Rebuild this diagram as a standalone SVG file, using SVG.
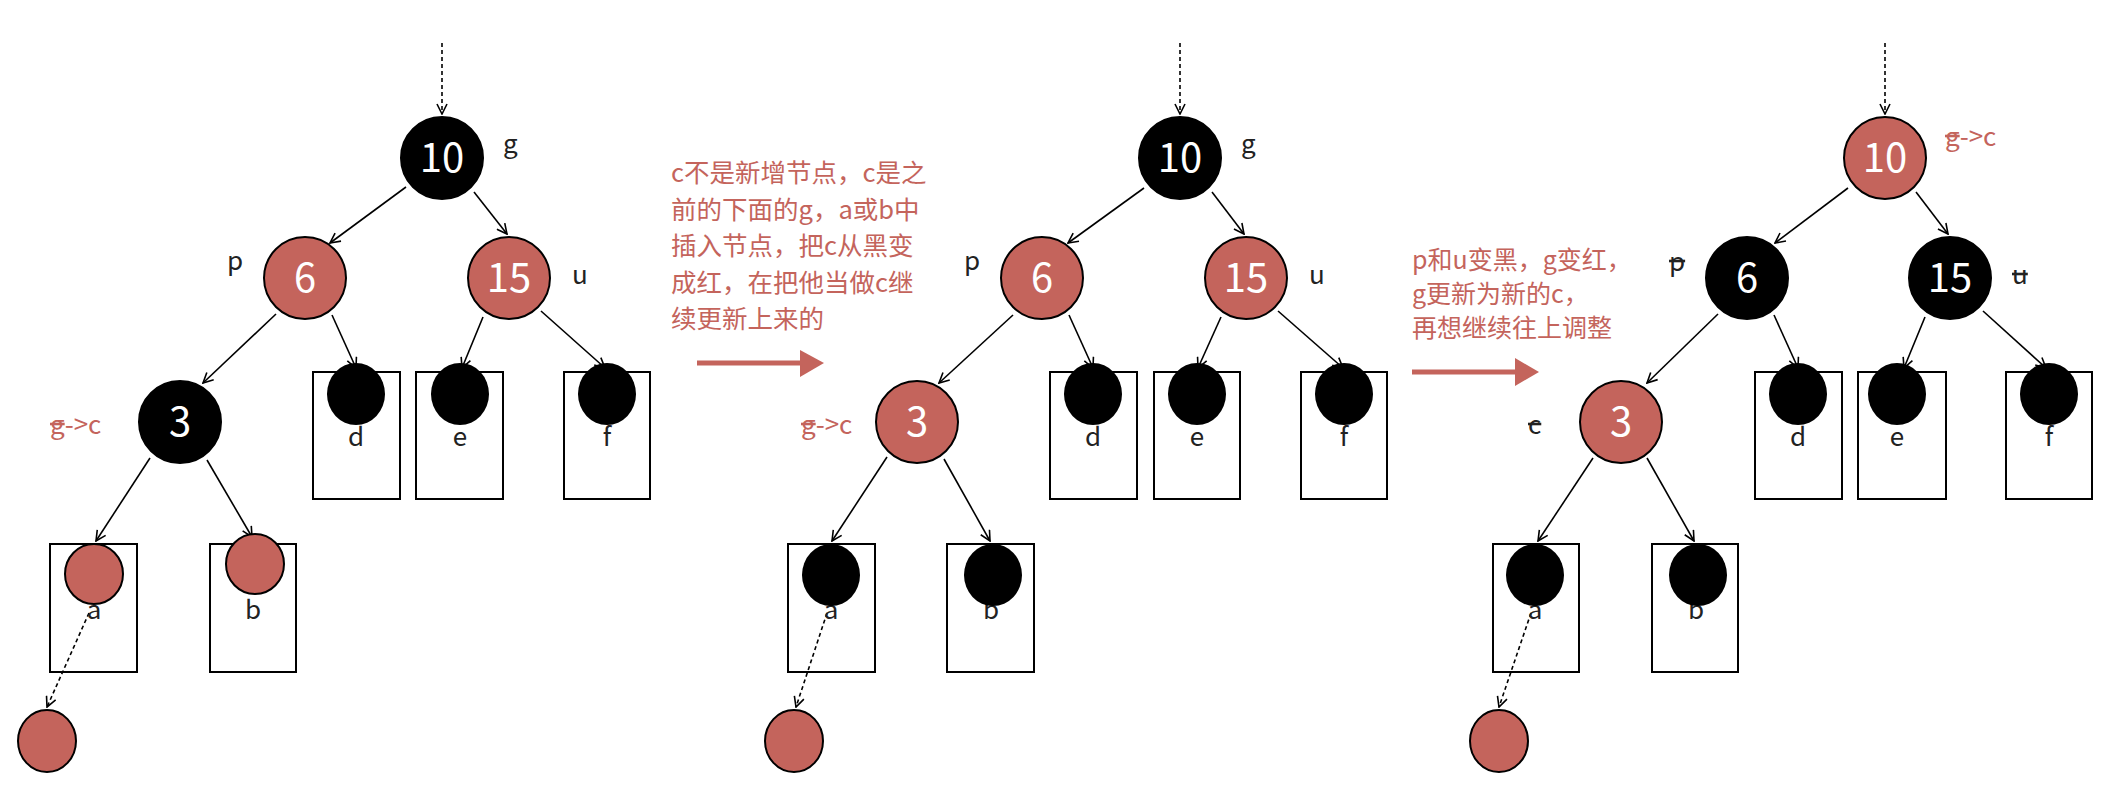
<svg xmlns="http://www.w3.org/2000/svg" width="2120" height="786" viewBox="0 0 2120 786">
<style>
.bk{fill:#000;stroke:#000;stroke-width:2}
.rd{fill:#C4645C;stroke:#000;stroke-width:2}
.lf{fill:#000}
.box{fill:none;stroke:#000;stroke-width:2}
.num{font-family:"Noto Sans CJK SC","Liberation Sans",sans-serif;font-size:40px;fill:#fff;text-anchor:middle}
.lbl{font-family:"Noto Sans CJK SC","Liberation Sans",sans-serif;font-size:26px;fill:#222}
.lc{text-anchor:middle}
.rt{font-family:"Noto Sans CJK SC","Liberation Sans",sans-serif;font-size:25.5px;fill:#C4645C}
.rs{font-family:"Noto Sans CJK SC","Liberation Sans",sans-serif;font-size:26px;fill:#C4645C}
.st{text-decoration:line-through}
.e{fill:none;stroke:#000;stroke-width:1.6;marker-end:url(#ah)}
.d{fill:none;stroke:#000;stroke-width:1.6;stroke-dasharray:4 3;marker-end:url(#ah)}
.ra{stroke:#C4645C;stroke-width:5;fill:none}
</style>
<defs>
<marker id="ah" viewBox="0 0 12 12" refX="11" refY="6" markerWidth="12" markerHeight="12" markerUnits="userSpaceOnUse" orient="auto">
<path d="M1,1 L11,6 L1,11" fill="none" stroke="#000" stroke-width="1.6"/>
</marker>
</defs>
<rect width="2120" height="786" fill="#fff"/>

<g id="connectors">
<!-- panel 1 -->
<line class="d" x1="442" y1="43" x2="442" y2="114"/>
<line class="e" x1="406" y1="187" x2="330" y2="243"/>
<line class="e" x1="474" y1="192" x2="507" y2="234"/>
<line class="e" x1="276" y1="314" x2="203" y2="383"/>
<line class="e" x1="332" y1="315" x2="356" y2="368"/>
<line class="e" x1="483" y1="317" x2="462" y2="368"/>
<line class="e" x1="541" y1="311" x2="605" y2="368"/>
<line class="e" x1="150" y1="458" x2="96" y2="541"/>
<line class="e" x1="207" y1="460" x2="252" y2="537"/>
<line class="d" x1="89" y1="613" x2="47" y2="707"/>
<!-- panel 2 -->
<line class="d" x1="1180" y1="43" x2="1180" y2="114"/>
<line class="e" x1="1144" y1="188" x2="1068" y2="243"/>
<line class="e" x1="1212" y1="192" x2="1244" y2="234"/>
<line class="e" x1="1013" y1="315" x2="939" y2="383"/>
<line class="e" x1="1069" y1="315" x2="1093" y2="368"/>
<line class="e" x1="1221" y1="317" x2="1198" y2="368"/>
<line class="e" x1="1278" y1="311" x2="1343" y2="368"/>
<line class="e" x1="887" y1="457" x2="832" y2="541"/>
<line class="e" x1="944" y1="459" x2="990" y2="541"/>
<line class="d" x1="827" y1="613" x2="796" y2="707"/>
<!-- panel 3 -->
<line class="d" x1="1885" y1="43" x2="1885" y2="114"/>
<line class="e" x1="1848" y1="188" x2="1775" y2="243"/>
<line class="e" x1="1916" y1="192" x2="1948" y2="234"/>
<line class="e" x1="1718" y1="314" x2="1647" y2="383"/>
<line class="e" x1="1774" y1="315" x2="1798" y2="368"/>
<line class="e" x1="1925" y1="317" x2="1904" y2="368"/>
<line class="e" x1="1983" y1="311" x2="2046" y2="368"/>
<line class="e" x1="1593" y1="458" x2="1538" y2="541"/>
<line class="e" x1="1647" y1="458" x2="1694" y2="541"/>
<line class="d" x1="1531" y1="613" x2="1499" y2="707"/>
</g>

<!-- ===== Panel 1 ===== -->
<g id="p1-n10"><circle class="bk" cx="442" cy="158" r="41"/><text class="num" x="442" y="172">10</text></g>
<g id="p1-g"><text class="lbl" x="503" y="153">g</text></g>
<g id="p1-n6"><circle class="rd" cx="305" cy="278" r="41"/><text class="num" x="305" y="292">6</text></g>
<g id="p1-p"><text class="lbl" x="227" y="270">p</text></g>
<g id="p1-n15"><circle class="rd" cx="509" cy="278" r="41"/><text class="num" x="509" y="292">15</text></g>
<g id="p1-u"><text class="lbl" x="572" y="284">u</text></g>
<g id="p1-n3"><circle class="bk" cx="180" cy="422" r="41"/><text class="num" x="180" y="436">3</text></g>
<g id="p1-gc"><text class="rs" x="50" y="434"><tspan class="st">g</tspan>-&gt;c</text></g>
<g id="p1-d"><rect class="box" x="313" y="372" width="87" height="127"/><text class="lbl lc" x="356" y="446">d</text><ellipse class="lf" cx="356" cy="394" rx="29" ry="31"/></g>
<g id="p1-e"><rect class="box" x="416" y="372" width="87" height="127"/><text class="lbl lc" x="460" y="446">e</text><ellipse class="lf" cx="460" cy="394" rx="29" ry="31"/></g>
<g id="p1-f"><rect class="box" x="564" y="372" width="86" height="127"/><text class="lbl lc" x="607" y="446">f</text><ellipse class="lf" cx="607" cy="394" rx="29" ry="31"/></g>
<g id="p1-a"><rect class="box" x="50" y="544" width="87" height="128"/><text class="lbl lc" x="94" y="619">a</text><ellipse class="rd" cx="94" cy="574" rx="29" ry="30"/></g>
<g id="p1-b"><rect class="box" x="210" y="544" width="86" height="128"/><text class="lbl lc" x="253" y="619">b</text><ellipse class="rd" cx="255" cy="564" rx="29" ry="30"/></g>
<g id="p1-new"><ellipse class="rd" cx="47" cy="741" rx="29" ry="31"/></g>

<g id="note1">
<text class="rt" x="671" y="182">c不是新增节点，c是之</text>
<text class="rt" x="671" y="219">前的下面的g，a或b中</text>
<text class="rt" x="671" y="255">插入节点，把c从黑变</text>
<text class="rt" x="671" y="292">成红，在把他当做c继</text>
<text class="rt" x="671" y="328">续更新上来的</text>
<line class="ra" x1="697" y1="363" x2="803" y2="363"/>
<polygon points="800,350 824,363 800,377" fill="#C4645C"/>
</g>

<!-- ===== Panel 2 ===== -->
<g id="p2-n10"><circle class="bk" cx="1180" cy="158" r="41"/><text class="num" x="1180" y="172">10</text></g>
<g id="p2-g"><text class="lbl" x="1241" y="153">g</text></g>
<g id="p2-n6"><circle class="rd" cx="1042" cy="278" r="41"/><text class="num" x="1042" y="292">6</text></g>
<g id="p2-p"><text class="lbl" x="964" y="270">p</text></g>
<g id="p2-n15"><circle class="rd" cx="1246" cy="278" r="41"/><text class="num" x="1246" y="292">15</text></g>
<g id="p2-u"><text class="lbl" x="1309" y="284">u</text></g>
<g id="p2-n3"><circle class="rd" cx="917" cy="422" r="41"/><text class="num" x="917" y="436">3</text></g>
<g id="p2-gc"><text class="rs" x="801" y="434"><tspan class="st">g</tspan>-&gt;c</text></g>
<g id="p2-d"><rect class="box" x="1050" y="372" width="87" height="127"/><text class="lbl lc" x="1093" y="446">d</text><ellipse class="lf" cx="1093" cy="394" rx="29" ry="31"/></g>
<g id="p2-e"><rect class="box" x="1154" y="372" width="86" height="127"/><text class="lbl lc" x="1197" y="446">e</text><ellipse class="lf" cx="1197" cy="394" rx="29" ry="31"/></g>
<g id="p2-f"><rect class="box" x="1301" y="372" width="86" height="127"/><text class="lbl lc" x="1344" y="446">f</text><ellipse class="lf" cx="1344" cy="394" rx="29" ry="31"/></g>
<g id="p2-a"><rect class="box" x="788" y="544" width="87" height="128"/><text class="lbl lc" x="831" y="619">a</text><ellipse class="lf" cx="831" cy="575" rx="29" ry="31"/></g>
<g id="p2-b"><rect class="box" x="947" y="544" width="87" height="128"/><text class="lbl lc" x="991" y="619">b</text><ellipse class="lf" cx="993" cy="575" rx="29" ry="31"/></g>
<g id="p2-new"><ellipse class="rd" cx="794" cy="741" rx="29" ry="31"/></g>

<g id="note2">
<text class="rt" x="1412" y="269" style="font-size:25px">p和u变黑，g变红，</text>
<text class="rt" x="1412" y="303" style="font-size:25px">g更新为新的c，</text>
<text class="rt" x="1412" y="337" style="font-size:25px">再想继续往上调整</text>
<line class="ra" x1="1412" y1="372" x2="1518" y2="372"/>
<polygon points="1515,358 1539,372 1515,386" fill="#C4645C"/>
</g>

<!-- ===== Panel 3 ===== -->
<g id="p3-n10"><circle class="rd" cx="1885" cy="158" r="41"/><text class="num" x="1885" y="172">10</text></g>
<g id="p3-gc"><text class="rs" x="1945" y="146"><tspan class="st">g</tspan>-&gt;c</text></g>
<g id="p3-n6"><circle class="bk" cx="1747" cy="278" r="41"/><text class="num" x="1747" y="292">6</text></g>
<g id="p3-p"><text class="lbl st" x="1669" y="271">p</text></g>
<g id="p3-n15"><circle class="bk" cx="1950" cy="278" r="41"/><text class="num" x="1950" y="292">15</text></g>
<g id="p3-u"><text class="lbl st" x="2012" y="284">u</text></g>
<g id="p3-n3"><circle class="rd" cx="1621" cy="422" r="41"/><text class="num" x="1621" y="436">3</text></g>
<g id="p3-c"><text class="lbl st" x="1528" y="434">c</text></g>
<g id="p3-d"><rect class="box" x="1755" y="372" width="87" height="127"/><text class="lbl lc" x="1798" y="446">d</text><ellipse class="lf" cx="1798" cy="394" rx="29" ry="31"/></g>
<g id="p3-e"><rect class="box" x="1858" y="372" width="88" height="127"/><text class="lbl lc" x="1897" y="446">e</text><ellipse class="lf" cx="1897" cy="394" rx="29" ry="31"/></g>
<g id="p3-f"><rect class="box" x="2006" y="372" width="86" height="127"/><text class="lbl lc" x="2049" y="446">f</text><ellipse class="lf" cx="2049" cy="394" rx="29" ry="31"/></g>
<g id="p3-a"><rect class="box" x="1493" y="544" width="86" height="128"/><text class="lbl lc" x="1535" y="619">a</text><ellipse class="lf" cx="1535" cy="575" rx="29" ry="31"/></g>
<g id="p3-b"><rect class="box" x="1652" y="544" width="86" height="128"/><text class="lbl lc" x="1696" y="619">b</text><ellipse class="lf" cx="1698" cy="575" rx="29" ry="31"/></g>
<g id="p3-new"><ellipse class="rd" cx="1499" cy="741" rx="29" ry="31"/></g>
</svg>
